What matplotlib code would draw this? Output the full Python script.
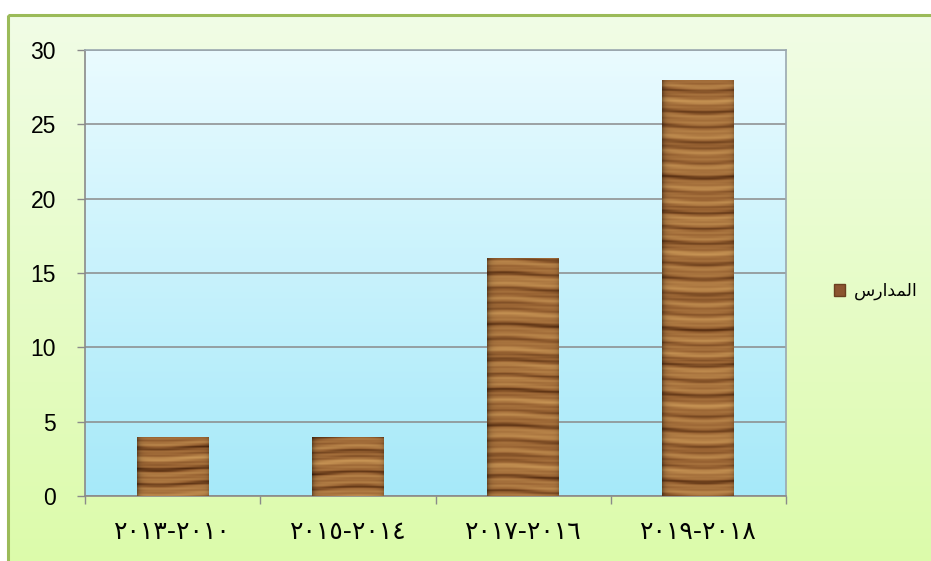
import numpy as np
import matplotlib
matplotlib.use("Agg")
import matplotlib.pyplot as plt
from matplotlib.patches import Rectangle, Patch
from matplotlib.colors import LinearSegmentedColormap

# ---- data ----
categories = ["٢٠١٣-٢٠١٠", "٢٠١٥-٢٠١٤", "٢٠١٧-٢٠١٦", "٢٠١٩-٢٠١٨"]
values = [4, 4, 16, 28]
series_name = "\uFEB1\uFEAD\uFE8D\uFEAA\uFEE4\uFEDF\uFE8D"  # المدارس (shaped, visual order)
y_ticks = [0, 5, 10, 15, 20, 25, 30]

W, H = 931, 561
fig = plt.figure(figsize=(W / 100, H / 100), dpi=100)
fig.patch.set_facecolor("white")

# ---- outer chart area background (gradient) ----
bg = fig.add_axes([0, 0, 1, 1], zorder=-5)
bg.set_xlim(0, W)
bg.set_ylim(H, 0)
bg.axis("off")
grad = np.linspace(0, 1, 256).reshape(-1, 1)
cmap_bg = LinearSegmentedColormap.from_list("bg", ["#f1fde6", "#dcfbaa"])
bg.imshow(grad, extent=[8, W + 5, H + 5, 15], aspect="auto", cmap=cmap_bg, zorder=0)
bg.add_patch(Rectangle((8, 15), W, H, fill=False, edgecolor="#9bbb59", lw=2.2, zorder=2))

# ---- plot area ----
L, R, B, T = 85, 786, 496, 50
ax = fig.add_axes([L / W, (H - B) / H, (R - L) / W, (B - T) / H])
ax.set_xlim(0, len(categories))
ax.set_ylim(0, 30)

cmap_pa = LinearSegmentedColormap.from_list("pa", ["#a6e9f9", "#eafbff"])
ax.imshow(np.linspace(0, 1, 256).reshape(-1, 1), extent=[0, len(categories), 0, 30],
          origin="lower", aspect="auto", cmap=cmap_pa, zorder=0)

for y in y_ticks:
    ax.axhline(y, color="#8a8a8a", lw=1.1, zorder=1)

# ---- bars with wood texture ----
x = np.arange(len(categories)) + 0.5
bw = 0.41
bars = ax.bar(x, values, width=bw, color="#9a6532", zorder=2)

def wood(nrows, ncols, phase):
    yy = np.arange(nrows).reshape(-1, 1).astype(float)
    xx = np.linspace(0, 1, ncols).reshape(1, -1)
    warp = 1.5 * np.sin(4 * xx + phase)
    f = (0.60 * np.sin(2 * np.pi * (yy + warp) / 17.0 + phase)
         + 0.45 * np.sin(2 * np.pi * (yy + warp) / 7.3 + 2 * phase)
         + 0.25 * np.sin(2 * np.pi * (yy - warp) / 31.0 + 0.5 * phase)
         + 0.15 * np.sin(2 * np.pi * yy / 3.1))
    f = (f - f.min()) / (f.max() - f.min())
    f = f ** 0.8
    dark = np.array([0.33, 0.17, 0.06])
    mid = np.array([0.60, 0.39, 0.20])
    light = np.array([0.78, 0.58, 0.33])
    g = f[..., None]
    img = np.where(g < 0.45, dark + (mid - dark) * (g / 0.45),
                   mid + (light - mid) * ((g - 0.45) / 0.55))
    edge = 1 - 0.35 * np.exp(-xx * 25)[..., None] - 0.15 * np.exp(-(1 - xx) * 30)[..., None]
    return np.clip(img * edge, 0, 1)

for i, b in enumerate(bars):
    h = b.get_height()
    nrows = int(h * 15)
    tex = wood(nrows, 72, i * 1.7 + 0.4)
    im = ax.imshow(tex, extent=[b.get_x(), b.get_x() + bw, 0, h], origin="lower",
                   aspect="auto", zorder=3, interpolation="bilinear")
    im.set_clip_path(b)

ax.set_xlim(0, len(categories))
ax.set_ylim(0, 30)

# ---- axes styling ----
for s in ["top", "right"]:
    ax.spines[s].set_visible(True)
    ax.spines[s].set_color("#9aa8b0")
    ax.spines[s].set_linewidth(1.2)
for s in ["left", "bottom"]:
    ax.spines[s].set_color("#8a8a8a")
    ax.spines[s].set_linewidth(1.2)

ax.set_yticks(y_ticks)
ax.set_yticklabels([str(v) for v in y_ticks], fontsize=16.5, family="Liberation Sans")
ax.tick_params(axis="y", length=6, width=1, color="#8a8a8a", pad=15)

ax.set_xticks(np.arange(len(categories) + 1))
ax.set_xticklabels([])
ax.set_xticks(x, minor=True)
ax.set_xticklabels(categories, minor=True, fontsize=18, family=["DejaVu Sans", "Noto Sans"])
ax.tick_params(axis="x", which="major", length=6, width=1, color="#8a8a8a", direction="out")
ax.tick_params(axis="x", which="minor", length=0, pad=17)

# ---- legend ----
handle = Patch(facecolor="#8b5530", edgecolor="#6b4020")
leg = fig.legend([handle], [series_name], loc="center left",
                 bbox_to_anchor=(818 / W, 1 - 291 / H), frameon=False,
                 prop={"family": ["DejaVu Sans", "Noto Sans"], "size": 12.5},
                 handlelength=0.65, handleheight=0.65, handletextpad=0.5)

fig.savefig("out.png", dpi=100)
